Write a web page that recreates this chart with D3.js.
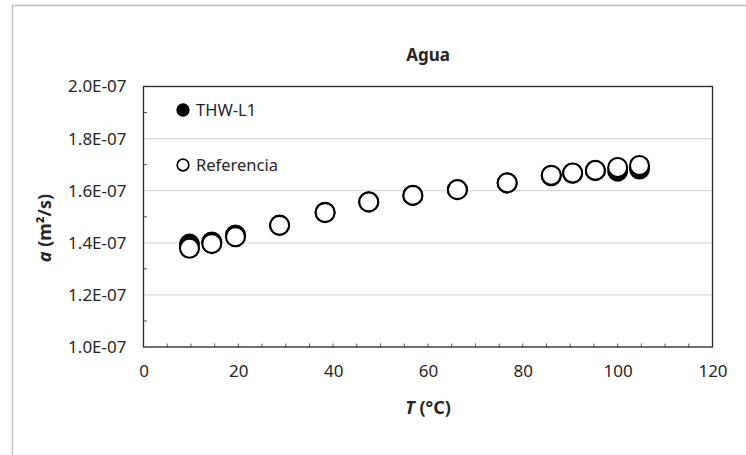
<!DOCTYPE html>
<html><head><meta charset="utf-8">
<script src="https://cdn.jsdelivr.net/npm/d3@7"></script>
<style>
html,body{margin:0;padding:0;background:#fff;}
svg text{font-family:"Noto Sans","Open Sans",sans-serif;fill:#262626;}
</style></head>
<body>
<svg id="c" width="746" height="455"></svg>
<script>
const chartTitle = "Agua";
const seriesNames = ["THW-L1", "Referencia"];
const temperature = [9.7, 14.4, 19.4, 28.7, 38.3, 47.5, 56.8, 66.2, 76.7, 86.0, 90.5, 95.3, 100.0, 104.6];
const thwValues = [1.395e-7, 1.403e-7, 1.430e-7, 1.468e-7, 1.517e-7, 1.557e-7, 1.582e-7, 1.604e-7, 1.630e-7, 1.657e-7, 1.667e-7, 1.677e-7, 1.675e-7, 1.683e-7];
const refValues = [1.379e-7, 1.397e-7, 1.423e-7, 1.467e-7, 1.516e-7, 1.557e-7, 1.582e-7, 1.604e-7, 1.630e-7, 1.659e-7, 1.668e-7, 1.678e-7, 1.689e-7, 1.697e-7];
const xTicks = [0, 20, 40, 60, 80, 100, 120];
const yTicks = [1.0e-7, 1.2e-7, 1.4e-7, 1.6e-7, 1.8e-7, 2.0e-7];

const svg = d3.select("#c");
// outer chart border
svg.append("rect").attr("x", 12.5).attr("y", 5.5).attr("width", 760).attr("height", 470)
  .attr("fill", "none").attr("stroke", "#bfbfbf").attr("stroke-width", 1.5);

const L = 143.5, R = 712.5, T = 86.5, B = 347;
const x = d3.scaleLinear().domain([0, 120]).range([L, R]);
const y = d3.scaleLinear().domain([1.0e-7, 2.0e-7]).range([B, T]);

// gridlines
svg.append("g").selectAll("line").data(yTicks.slice(1, -1)).join("line")
  .attr("x1", L).attr("x2", R).attr("y1", d => y(d)).attr("y2", d => y(d))
  .attr("stroke", "#d9d9d9").attr("stroke-width", 1.3);

// minor ticks (inward)
const xMinor = d3.range(5, 120, 5);
svg.append("g").selectAll("line").data(xMinor).join("line")
  .attr("x1", d => x(d)).attr("x2", d => x(d)).attr("y1", B).attr("y2", B - 3.5)
  .attr("stroke", "#595959").attr("stroke-width", 1);
const yMinor = d3.range(1, 10, 2).map(k => 1.0e-7 + k * 0.1e-7);
svg.append("g").selectAll("line").data(yMinor).join("line")
  .attr("x1", L).attr("x2", L + 3.5).attr("y1", d => y(d)).attr("y2", d => y(d))
  .attr("stroke", "#595959").attr("stroke-width", 1);

// plot border
svg.append("rect").attr("x", L).attr("y", T).attr("width", R - L).attr("height", B - T)
  .attr("fill", "none").attr("stroke", "#262626").attr("stroke-width", 1.3);

// axes labels via d3 axes
const xAxis = d3.axisBottom(x).tickValues(xTicks).tickSize(0).tickPadding(18).tickFormat(d3.format("d"));
const gx = svg.append("g").attr("transform", `translate(0,${B})`).call(xAxis);
gx.select(".domain").remove();
gx.selectAll("text").style("font-size", "17px").attr("fill", "#404040");

const yAxis = d3.axisLeft(y).tickValues(yTicks).tickSize(0).tickPadding(17)
  .tickFormat(d => (d / 1e-7).toFixed(1) + "E-07");
const gy = svg.append("g").attr("transform", `translate(${L},0)`).call(yAxis);
gy.select(".domain").remove();
gy.selectAll("text").style("font-size", "17px").attr("fill", "#404040");

// title
svg.append("text").attr("x", 428).attr("y", 61).attr("text-anchor", "middle")
  .style("font-size", "17px").style("font-weight", "bold").text(chartTitle);

// axis titles
const xt = svg.append("text").attr("x", 428).attr("y", 414).attr("text-anchor", "middle")
  .style("font-size", "18px").style("font-weight", "bold");
xt.append("tspan").style("font-style", "italic").text("T");
xt.append("tspan").text(" (°C)");

const yt = svg.append("text").attr("transform", "translate(51,228) rotate(-90)").attr("text-anchor", "middle")
  .style("font-size", "18px").style("font-weight", "bold");
yt.append("tspan").style("font-style", "italic").text("a");
yt.append("tspan").text(" (m²/s)");

// series: filled THW first, then open Referencia on top
const thw = temperature.map((t, i) => ({t, v: thwValues[i]}));
const ref = temperature.map((t, i) => ({t, v: refValues[i]}));
svg.append("g").selectAll("circle").data(thw).join("circle")
  .attr("cx", d => x(d.t)).attr("cy", d => y(d.v)).attr("r", 9.5)
  .attr("fill", "#000").attr("stroke", "#000").attr("stroke-width", 2);
svg.append("g").selectAll("circle").data(ref).join("circle")
  .attr("cx", d => x(d.t)).attr("cy", d => y(d.v)).attr("r", 9.5)
  .attr("fill", "#fff").attr("stroke", "#000").attr("stroke-width", 2.1);

// legend
const lg = svg.append("g");
const legendY = [110, 165];
seriesNames.forEach((name, i) => {
  lg.append("circle").attr("cx", 183).attr("cy", legendY[i]).attr("r", 5.8)
    .attr("fill", i === 0 ? "#000" : "#fff").attr("stroke", "#000").attr("stroke-width", 1.7);
  lg.append("text").attr("x", 196).attr("y", legendY[i] + 6).style("font-size", "16.5px")
    .attr("fill", "#404040").text(name);
});
</script>
</body></html>
